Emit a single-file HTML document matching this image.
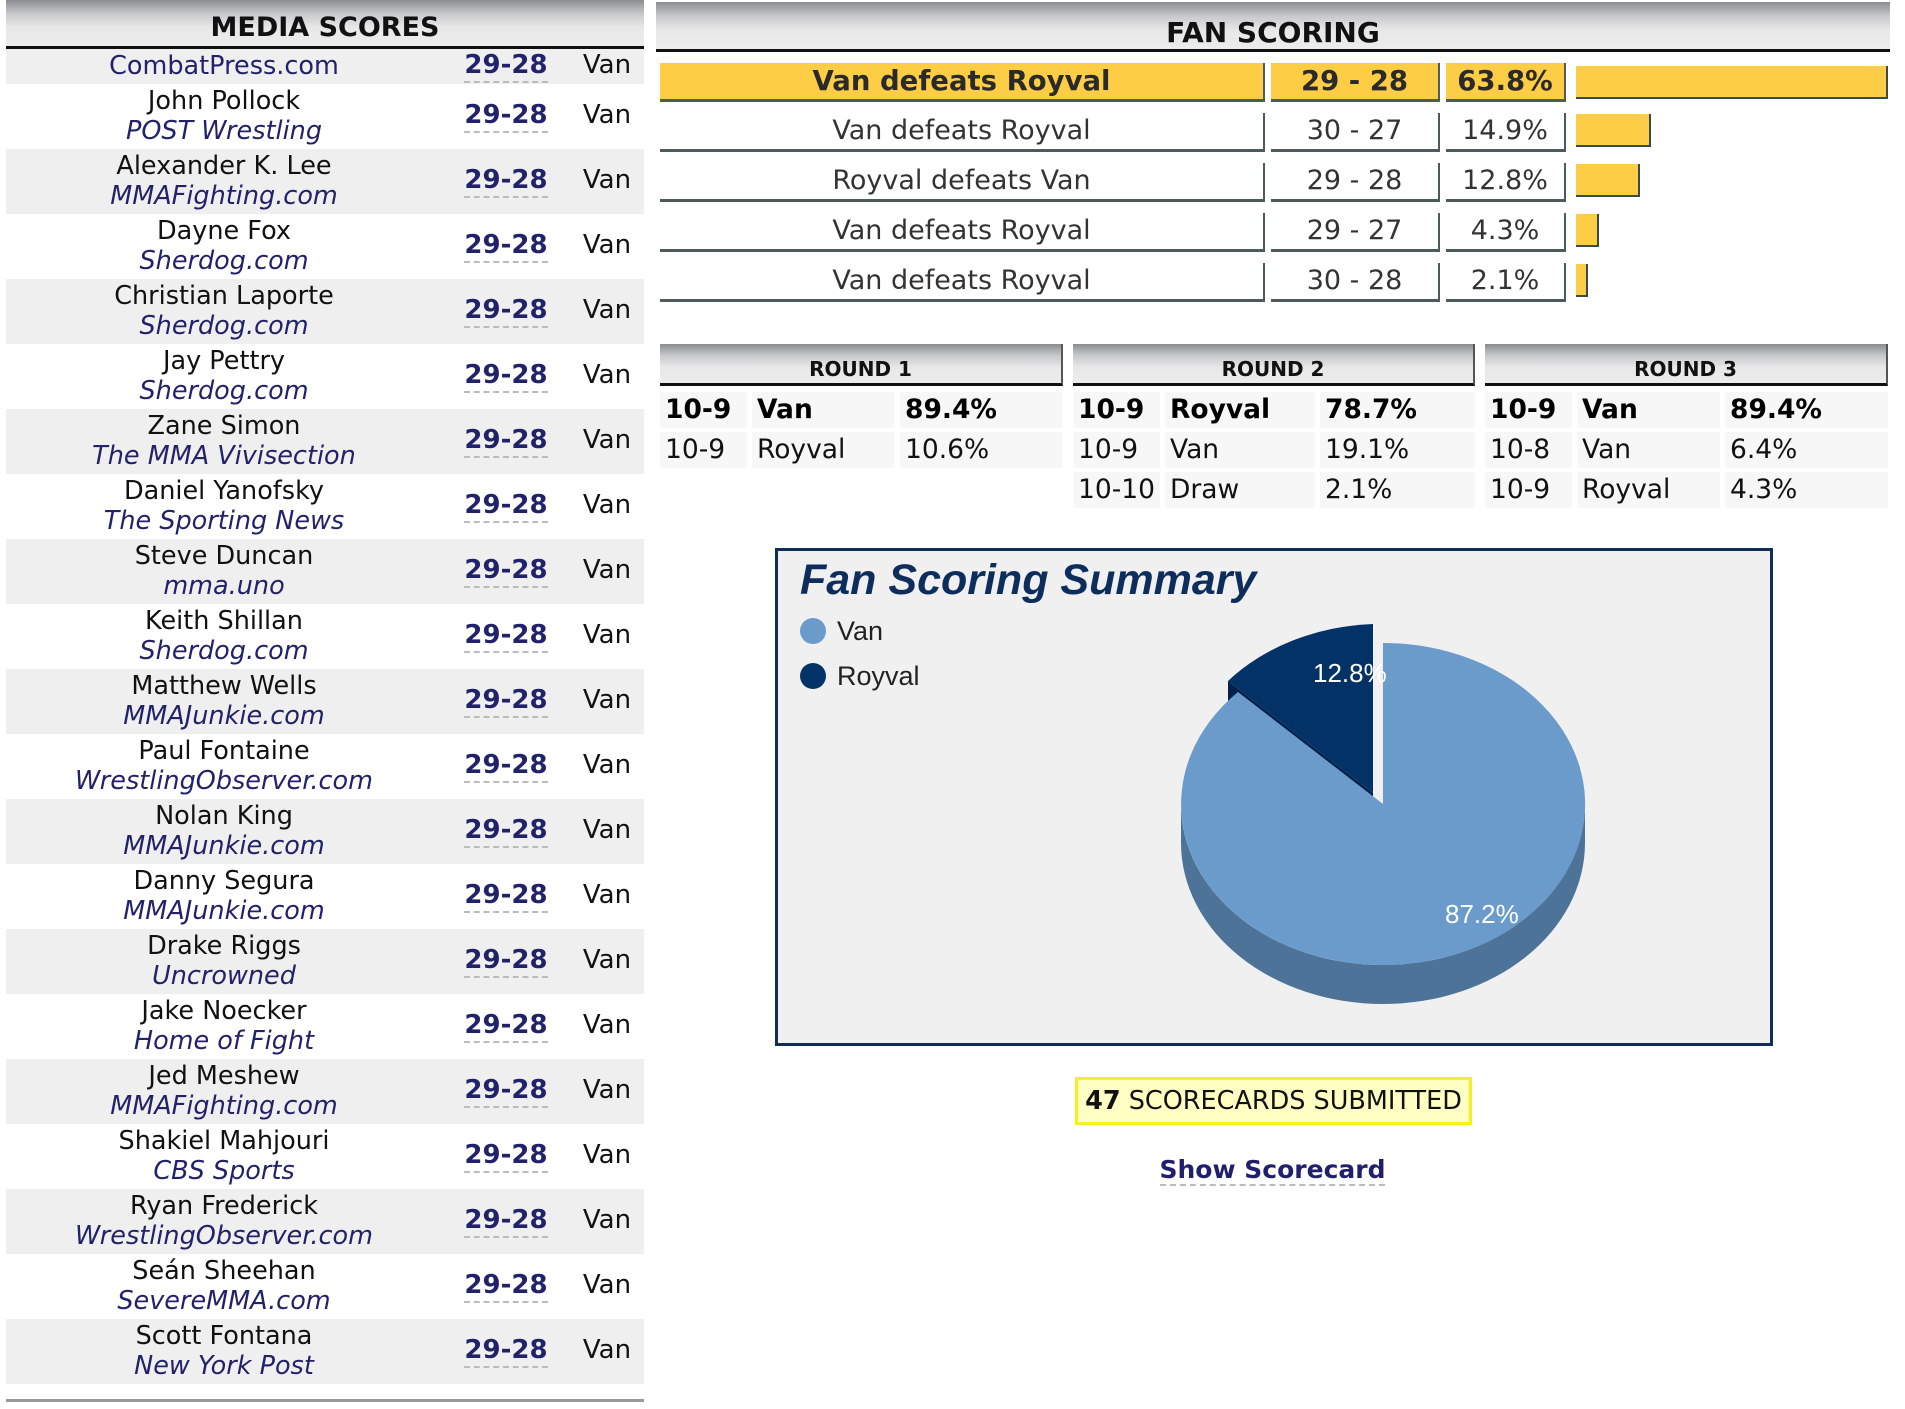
<!DOCTYPE html>
<html><head><meta charset="utf-8">
<style>
*{margin:0;padding:0;box-sizing:border-box}
body{width:1905px;height:1409px;background:#fff;position:relative;overflow:hidden;font-family:"DejaVu Sans","Liberation Sans",sans-serif;color:#111}
.abs{position:absolute}
.hdr{background:linear-gradient(#8a8c90 0%,#c8c9cb 30%,#e8e8e8 60%,#ececec 100%);border-bottom:3px solid #111;font-weight:bold;text-align:center}
.mrow{position:absolute;left:6px;width:638px;height:65px}
.mrow.g{background:#efefef}
.nm{position:absolute;left:0;width:436px;text-align:center;font-size:25.5px;line-height:30px;top:2px;white-space:nowrap}
.nm i{color:#22226a}
.sc{position:absolute;left:436px;width:128px;text-align:center;font-size:26px;font-weight:bold;color:#22226a;top:16px}
.sc span{border-bottom:2px dashed #bbb;padding-bottom:1px}
.vn{position:absolute;left:564px;width:74px;text-align:center;font-size:26px;top:16px}
.fc{position:absolute;height:39px;border-bottom:3px solid #4d5b5b;border-right:2px solid #4d5b5b;text-align:center;font-size:27px;line-height:36px;color:#333;white-space:nowrap}
.bar{position:absolute;height:33px;background:#fccd45;border-right:2px solid #3b4a4a;border-bottom:2px solid #3b4a4a}
.rc{position:absolute;height:36px;background:#f7f7f7;font-size:26.5px;line-height:36px;padding-left:5px;white-space:nowrap}
.b{font-weight:bold;color:#000}
</style></head><body>

<div class="abs hdr" style="left:6px;top:0;width:638px;height:49px;font-size:27px;line-height:55px">MEDIA SCORES</div>
<div class="mrow g" style="top:49px;height:35px"><div class="nm" style="top:2px;color:#22226a">CombatPress.com</div><div class="sc" style="top:1px"><span>29-28</span></div><div class="vn" style="top:1px">Van</div></div>

<div class="mrow" style="top:84px"><div class="nm">John Pollock<br><i>POST Wrestling</i></div><div class="sc"><span>29-28</span></div><div class="vn">Van</div></div>
<div class="mrow g" style="top:149px"><div class="nm">Alexander K. Lee<br><i>MMAFighting.com</i></div><div class="sc"><span>29-28</span></div><div class="vn">Van</div></div>
<div class="mrow" style="top:214px"><div class="nm">Dayne Fox<br><i>Sherdog.com</i></div><div class="sc"><span>29-28</span></div><div class="vn">Van</div></div>
<div class="mrow g" style="top:279px"><div class="nm">Christian Laporte<br><i>Sherdog.com</i></div><div class="sc"><span>29-28</span></div><div class="vn">Van</div></div>
<div class="mrow" style="top:344px"><div class="nm">Jay Pettry<br><i>Sherdog.com</i></div><div class="sc"><span>29-28</span></div><div class="vn">Van</div></div>
<div class="mrow g" style="top:409px"><div class="nm">Zane Simon<br><i>The MMA Vivisection</i></div><div class="sc"><span>29-28</span></div><div class="vn">Van</div></div>
<div class="mrow" style="top:474px"><div class="nm">Daniel Yanofsky<br><i>The Sporting News</i></div><div class="sc"><span>29-28</span></div><div class="vn">Van</div></div>
<div class="mrow g" style="top:539px"><div class="nm">Steve Duncan<br><i>mma.uno</i></div><div class="sc"><span>29-28</span></div><div class="vn">Van</div></div>
<div class="mrow" style="top:604px"><div class="nm">Keith Shillan<br><i>Sherdog.com</i></div><div class="sc"><span>29-28</span></div><div class="vn">Van</div></div>
<div class="mrow g" style="top:669px"><div class="nm">Matthew Wells<br><i>MMAJunkie.com</i></div><div class="sc"><span>29-28</span></div><div class="vn">Van</div></div>
<div class="mrow" style="top:734px"><div class="nm">Paul Fontaine<br><i>WrestlingObserver.com</i></div><div class="sc"><span>29-28</span></div><div class="vn">Van</div></div>
<div class="mrow g" style="top:799px"><div class="nm">Nolan King<br><i>MMAJunkie.com</i></div><div class="sc"><span>29-28</span></div><div class="vn">Van</div></div>
<div class="mrow" style="top:864px"><div class="nm">Danny Segura<br><i>MMAJunkie.com</i></div><div class="sc"><span>29-28</span></div><div class="vn">Van</div></div>
<div class="mrow g" style="top:929px"><div class="nm">Drake Riggs<br><i>Uncrowned</i></div><div class="sc"><span>29-28</span></div><div class="vn">Van</div></div>
<div class="mrow" style="top:994px"><div class="nm">Jake Noecker<br><i>Home of Fight</i></div><div class="sc"><span>29-28</span></div><div class="vn">Van</div></div>
<div class="mrow g" style="top:1059px"><div class="nm">Jed Meshew<br><i>MMAFighting.com</i></div><div class="sc"><span>29-28</span></div><div class="vn">Van</div></div>
<div class="mrow" style="top:1124px"><div class="nm">Shakiel Mahjouri<br><i>CBS Sports</i></div><div class="sc"><span>29-28</span></div><div class="vn">Van</div></div>
<div class="mrow g" style="top:1189px"><div class="nm">Ryan Frederick<br><i>WrestlingObserver.com</i></div><div class="sc"><span>29-28</span></div><div class="vn">Van</div></div>
<div class="mrow" style="top:1254px"><div class="nm">Seán Sheehan<br><i>SevereMMA.com</i></div><div class="sc"><span>29-28</span></div><div class="vn">Van</div></div>
<div class="mrow g" style="top:1319px"><div class="nm">Scott Fontana<br><i>New York Post</i></div><div class="sc"><span>29-28</span></div><div class="vn">Van</div></div>
<div class="abs" style="left:6px;top:1399px;width:638px;height:3px;background:#999"></div>

<div class="abs hdr" style="left:656px;top:2px;width:1234px;height:50px;font-size:28px;line-height:62px">FAN SCORING</div>

<div class="fc b" style="left:660px;top:63px;width:605px;background:#fccd45;color:#2a2a2a;font-size:27.5px">Van defeats Royval</div>
<div class="fc b" style="left:1271px;top:63px;width:169px;background:#fccd45;color:#2a2a2a;font-size:27.5px">29 - 28</div>
<div class="fc b" style="left:1446px;top:63px;width:120px;background:#fccd45;color:#2a2a2a;font-size:27.5px">63.8%</div>
<div class="bar" style="left:1576px;top:66px;width:312px"></div>

<div class="fc" style="left:660px;top:113px;width:605px">Van defeats Royval</div>
<div class="fc" style="left:1271px;top:113px;width:169px">30 - 27</div>
<div class="fc" style="left:1446px;top:113px;width:120px">14.9%</div>
<div class="bar" style="left:1576px;top:114px;width:75px"></div>

<div class="fc" style="left:660px;top:163px;width:605px">Royval defeats Van</div>
<div class="fc" style="left:1271px;top:163px;width:169px">29 - 28</div>
<div class="fc" style="left:1446px;top:163px;width:120px">12.8%</div>
<div class="bar" style="left:1576px;top:164px;width:64px"></div>

<div class="fc" style="left:660px;top:213px;width:605px">Van defeats Royval</div>
<div class="fc" style="left:1271px;top:213px;width:169px">29 - 27</div>
<div class="fc" style="left:1446px;top:213px;width:120px">4.3%</div>
<div class="bar" style="left:1576px;top:214px;width:23px"></div>

<div class="fc" style="left:660px;top:263px;width:605px">Van defeats Royval</div>
<div class="fc" style="left:1271px;top:263px;width:169px">30 - 28</div>
<div class="fc" style="left:1446px;top:263px;width:120px">2.1%</div>
<div class="bar" style="left:1576px;top:264px;width:12px"></div>

<div class="abs hdr" style="left:660px;top:344px;width:403px;height:42px;font-size:20px;line-height:50px;border-right:2px solid #555">ROUND 1</div>
<div class="abs hdr" style="left:1073px;top:344px;width:402px;height:42px;font-size:20px;line-height:50px;border-right:2px solid #555">ROUND 2</div>
<div class="abs hdr" style="left:1485px;top:344px;width:403px;height:42px;font-size:20px;line-height:50px;border-right:2px solid #555">ROUND 3</div>

<div class="rc b" style="left:660px;top:392px;width:87px">10-9</div>
<div class="rc b" style="left:752px;top:392px;width:143px">Van</div>
<div class="rc b" style="left:900px;top:392px;width:162px">89.4%</div>
<div class="rc" style="left:660px;top:432px;width:87px">10-9</div>
<div class="rc" style="left:752px;top:432px;width:143px">Royval</div>
<div class="rc" style="left:900px;top:432px;width:162px">10.6%</div>

<div class="rc b" style="left:1073px;top:392px;width:87px">10-9</div>
<div class="rc b" style="left:1165px;top:392px;width:150px">Royval</div>
<div class="rc b" style="left:1320px;top:392px;width:155px">78.7%</div>
<div class="rc" style="left:1073px;top:432px;width:87px">10-9</div>
<div class="rc" style="left:1165px;top:432px;width:150px">Van</div>
<div class="rc" style="left:1320px;top:432px;width:155px">19.1%</div>
<div class="rc" style="left:1073px;top:472px;width:87px">10-10</div>
<div class="rc" style="left:1165px;top:472px;width:150px">Draw</div>
<div class="rc" style="left:1320px;top:472px;width:155px">2.1%</div>

<div class="rc b" style="left:1485px;top:392px;width:87px">10-9</div>
<div class="rc b" style="left:1577px;top:392px;width:143px">Van</div>
<div class="rc b" style="left:1725px;top:392px;width:163px">89.4%</div>
<div class="rc" style="left:1485px;top:432px;width:87px">10-8</div>
<div class="rc" style="left:1577px;top:432px;width:143px">Van</div>
<div class="rc" style="left:1725px;top:432px;width:163px">6.4%</div>
<div class="rc" style="left:1485px;top:472px;width:87px">10-9</div>
<div class="rc" style="left:1577px;top:472px;width:143px">Royval</div>
<div class="rc" style="left:1725px;top:472px;width:163px">4.3%</div>

<div class="abs" style="left:775px;top:548px;width:998px;height:498px;background:#f0f0f0;border:3px solid #0f2d55"></div>
<svg class="abs" style="left:0;top:0" width="1905" height="1409" viewBox="0 0 1905 1409">
  <text x="800" y="594" font-family="Liberation Sans, sans-serif" font-size="43" font-weight="bold" font-style="italic" fill="#0d2e5c">Fan Scoring Summary</text>
  <circle cx="813" cy="631" r="13" fill="#6a9bcb"/>
  <text x="837" y="640" font-family="Liberation Sans, sans-serif" font-size="27" fill="#222">Van</text>
  <circle cx="813" cy="676" r="13" fill="#033366"/>
  <text x="837" y="685" font-family="Liberation Sans, sans-serif" font-size="27" fill="#222">Royval</text>
  <path d="M1228,681 L1373,793 L1373,832 L1228,720 Z" fill="#00214a"/>
  <path d="M1373,793 L1373,624 A202,161 0 0,0 1228,681 Z" fill="#033366"/>
  <path d="M1181,804 A202,161 0 0,0 1585,804 L1585,843 A202,161 0 0,1 1181,843 Z" fill="#4e7398"/>
  <path d="M1383,804 L1383,643 A202,161 0 1,1 1238,692 Z" fill="#6a9bcb"/>
  <text x="1313" y="682" font-family="Liberation Sans, sans-serif" font-size="26" fill="#fff">12.8%</text>
  <text x="1445" y="923" font-family="Liberation Sans, sans-serif" font-size="26" fill="#fff">87.2%</text>
</svg>

<div class="abs" style="left:1075px;top:1077px;width:397px;height:48px;background:#ffffc4;border:3px solid #f5f020;text-align:center;font-size:25.5px;line-height:42px;white-space:nowrap"><b>47</b> SCORECARDS SUBMITTED</div>
<div class="abs" style="left:1060px;top:1155px;width:425px;text-align:center;font-size:25px;font-weight:bold;color:#1f1f6e"><span style="border-bottom:2px dashed #bbb">Show Scorecard</span></div>
</body></html>
